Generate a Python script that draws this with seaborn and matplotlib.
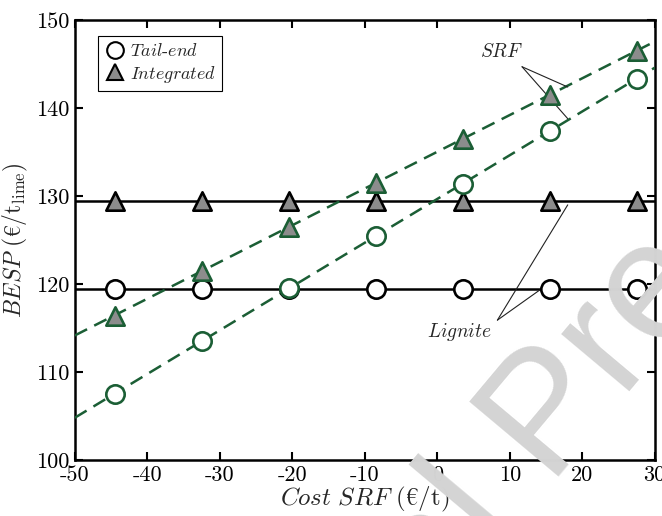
import numpy as np
import pandas as pd
import matplotlib.pyplot as plt
from matplotlib.lines import Line2D
import seaborn as sns

# --- Data ---
cost_srf = [-44.5, -32.5, -20.5, -8.5, 3.5, 15.5, 27.5]
tail_lignite = [119.4, 119.4, 119.4, 119.4, 119.4, 119.4, 119.4]
integ_lignite = [129.4, 129.4, 129.4, 129.4, 129.4, 129.4, 129.4]
tail_srf = [107.5, 113.5, 119.5, 125.5, 131.4, 137.4, 143.3]
integ_srf = [116.4, 121.5, 126.5, 131.5, 136.5, 141.5, 146.5]

df = pd.DataFrame({'cost': cost_srf, 'tail_lig': tail_lignite, 'int_lig': integ_lignite,
                   'tail_srf': tail_srf, 'int_srf': integ_srf})

# --- Style ---
sns.set_style('ticks')
plt.rcParams['font.family'] = ['cmr10', 'DejaVu Serif']
plt.rcParams['mathtext.fontset'] = 'cm'
plt.rcParams['axes.unicode_minus'] = False
plt.rcParams['axes.edgecolor'] = 'black'
plt.rcParams['axes.linewidth'] = 1.8
plt.rcParams['xtick.color'] = 'black'
plt.rcParams['ytick.color'] = 'black'

green = '#1b5e35'
grey = '#8c8c8c'

fig = plt.figure(figsize=(6.62, 5.16), dpi=100)
ax = fig.add_axes([0.113, 0.1085, 0.876, 0.8525])
ax.set_xlim(-50, 30)
ax.set_ylim(100, 150)

# watermark of the preprint
fig.text(0.245, -0.839, 'Journal Pre-proof', fontsize=122, color='#d4d4d4',
         family='Liberation Sans', rotation=50, ha='left', va='baseline',
         rotation_mode='anchor', zorder=0)

# --- Series ---
series = [
    ('tail_lig', 'o', 'white', 'black', 'black', '-'),
    ('int_lig', '^', grey, 'black', 'black', '-'),
    ('tail_srf', 'o', 'white', green, green, (0, (5.5, 3.2))),
    ('int_srf', '^', grey, green, green, (0, (5.5, 3.2))),
]
for col, mk, fc, ec, lc, ls in series:
    sns.regplot(data=df, x='cost', y=col, ax=ax, ci=None, truncate=False, marker=mk,
                scatter_kws={'s': 175, 'facecolors': fc, 'edgecolors': ec,
                             'linewidths': 1.9, 'alpha': 1, 'zorder': 5},
                line_kws={'color': lc, 'linestyle': ls, 'lw': 1.8, 'zorder': 3})

ax.set_xlim(-50, 30)
ax.set_ylim(100, 150)
ax.set_xticks(np.arange(-50, 31, 10))
ax.set_yticks(np.arange(100, 151, 10))
ax.tick_params(direction='in', top=True, right=True, length=6, width=1.5,
               labelsize=16, pad=4)
ax.set_xlabel(r'$Cost\ SRF\ (\mathrm{€/t})$', fontsize=18, labelpad=0)
ax.set_ylabel(r'$BESP\ (\mathrm{€/t_{lime}})$', fontsize=17, labelpad=4)

# --- Annotations ---
arrow = dict(arrowstyle='-', lw=0.8, color='#222222', shrinkA=0, shrinkB=0)
ax.text(8.9, 146.4, r'$SRF$', fontsize=14, ha='center', va='center')
ax.annotate('', xy=(18.0, 142.4), xytext=(11.7, 144.7), arrowprops=arrow)
ax.annotate('', xy=(18.0, 138.8), xytext=(11.7, 144.7), arrowprops=arrow)
ax.text(3.1, 114.5, r'$Lignite$', fontsize=14, ha='center', va='center')
ax.annotate('', xy=(18.0, 129.0), xytext=(8.3, 115.9), arrowprops=arrow)
ax.annotate('', xy=(14.1, 119.3), xytext=(8.3, 115.9), arrowprops=arrow)

# --- Legend ---
handles = [
    Line2D([], [], ls='none', marker='o', markersize=12, markerfacecolor='white',
           markeredgecolor='black', markeredgewidth=1.5),
    Line2D([], [], ls='none', marker='^', markersize=12, markerfacecolor=grey,
           markeredgecolor='black', markeredgewidth=1.5),
]
leg = ax.legend(handles, [r'$Tail$-$end$', r'$Integrated$'], loc='upper left',
                bbox_to_anchor=(0.025, 0.985), fontsize=13, frameon=True, fancybox=False,
                edgecolor='black', framealpha=1, handletextpad=0.2, handlelength=1.2,
                borderpad=0.35, labelspacing=0.25)
leg.get_frame().set_linewidth(0.8)

fig.savefig('out.png', dpi=100)
